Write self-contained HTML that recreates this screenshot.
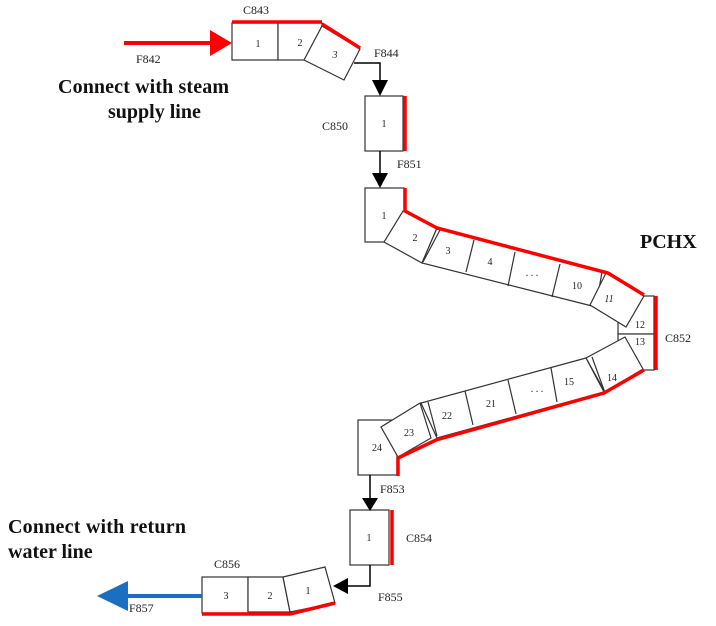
<!DOCTYPE html>
<html><head><style>body{margin:0;background:#fff}svg{display:block}</style></head><body>
<svg width="716" height="626" viewBox="0 0 716 626" xmlns="http://www.w3.org/2000/svg" font-family="Liberation Serif, serif">
<g fill="#fff" stroke="#333" stroke-width="1.2">
<rect x="232" y="23" width="46" height="37"/>
<rect x="278" y="23" width="44" height="37"/>
<polygon points="322,26 360,49 344,80 304,60"/>
<rect x="365" y="96" width="38" height="55"/>
<rect x="365" y="188" width="39" height="54"/>
<polygon points="403,211 437,228 422,263 384,242"/>
<polygon points="437,228 608,273 596,307 422,263"/>
<line x1="440" y1="230" x2="423" y2="262"/>
<line x1="474" y1="240" x2="466" y2="272"/>
<line x1="515" y1="252" x2="508" y2="286"/>
<line x1="560" y1="264" x2="552" y2="297"/>
<line x1="602" y1="272" x2="596" y2="306"/>
<rect x="618" y="296" width="36" height="38"/>
<rect x="618" y="334" width="36" height="36"/>
<polygon points="606,273 644,296 626,327 590,305"/>
<polygon points="625,337 643,369 605,392 586,358"/>
<polygon points="586,358 604,392 437,438 421,403"/>
<line x1="592" y1="357" x2="604" y2="390"/>
<line x1="551" y1="368" x2="557" y2="402"/>
<line x1="508" y1="380" x2="516" y2="414"/>
<line x1="465" y1="391" x2="473" y2="425"/>
<line x1="428" y1="402" x2="437" y2="436"/>
<rect x="358" y="420" width="39" height="55"/>
<polygon points="420,403 431,438 398,457 381,427"/>
<rect x="350" y="510" width="39" height="55"/>
<rect x="202" y="577" width="46" height="36"/>
<polygon points="248,577 283,577 290,612 248,612"/>
<polygon points="283,577 325,567 335,603 290,612"/>
</g>
<g fill="none" stroke="#f00" stroke-width="3.5">
<line x1="232" y1="22" x2="322" y2="22"/>
<line x1="322" y1="24" x2="360" y2="48"/>
<line x1="405" y1="96" x2="405" y2="151"/>
<polyline points="405,188 405,211 437,228 608,273 644,295"/>
<line x1="656" y1="296" x2="656" y2="370"/>
<polyline points="644,370 604,393 436,440 398,458 398,476"/>
<line x1="392" y1="510" x2="392" y2="565"/>
<polyline points="202,614 290,614 335,603"/>
</g>
<line x1="124" y1="43" x2="212" y2="43" stroke="#f00" stroke-width="4"/>
<polygon points="210,30 232,43 210,56" fill="#f00"/>
<line x1="126" y1="596" x2="202" y2="596" stroke="#1a6fc0" stroke-width="4"/>
<polygon points="128,581 97,596 128,611" fill="#1a6fc0"/>
<g stroke="#000" stroke-width="1.5" fill="none">
<polyline points="354,63 380,63 380,82"/>
<line x1="380" y1="151" x2="380" y2="175"/>
<line x1="370" y1="475" x2="370" y2="500"/>
<polyline points="370,565 370,586 346,586"/>
</g>
<g fill="#000">
<polygon points="372,80 388,80 380,96"/>
<polygon points="372,173 388,173 380,188"/>
<polygon points="362,498 378,498 370,511"/>
<polygon points="348,578 348,594 333,586"/>
</g>
<g font-size="12" fill="#222">
<text x="243" y="14">C843</text>
<text x="136" y="63">F842</text>
<text x="374" y="57">F844</text>
<text x="322" y="130">C850</text>
<text x="397" y="168">F851</text>
<text x="665" y="342">C852</text>
<text x="380" y="493">F853</text>
<text x="406" y="542">C854</text>
<text x="378" y="601">F855</text>
<text x="214" y="568">C856</text>
<text x="129" y="612">F857</text>
</g>
<g font-size="10" fill="#222" text-anchor="middle">
<text x="258" y="47">1</text><text x="300" y="46">2</text>
<text x="335" y="58" font-style="italic">3</text>
<text x="384" y="127">1</text>
<text x="384" y="219">1</text>
<text x="415" y="241">2</text>
<text x="448" y="254">3</text>
<text x="490" y="265">4</text>
<text x="532" y="276">. . .</text>
<text x="577" y="289">10</text>
<text x="609" y="302" font-style="italic">11</text>
<text x="640" y="328">12</text>
<text x="640" y="345">13</text>
<text x="612" y="381">14</text>
<text x="569" y="385">15</text>
<text x="537" y="392">. . .</text>
<text x="491" y="407">21</text>
<text x="447" y="419">22</text>
<text x="409" y="436">23</text>
<text x="377" y="451">24</text>
<text x="369" y="541">1</text>
<text x="226" y="599">3</text>
<text x="270" y="599">2</text>
<text x="308" y="594">1</text>
</g>
<g font-size="20" font-weight="bold" fill="#111">
<text x="58" y="93" textLength="171">Connect with steam</text>
<text x="108" y="118">supply line</text>
<text x="8" y="533" textLength="178">Connect with return</text>
<text x="8" y="558">water line</text>
<text x="640" y="248">PCHX</text>
</g>
</svg>
</body></html>
